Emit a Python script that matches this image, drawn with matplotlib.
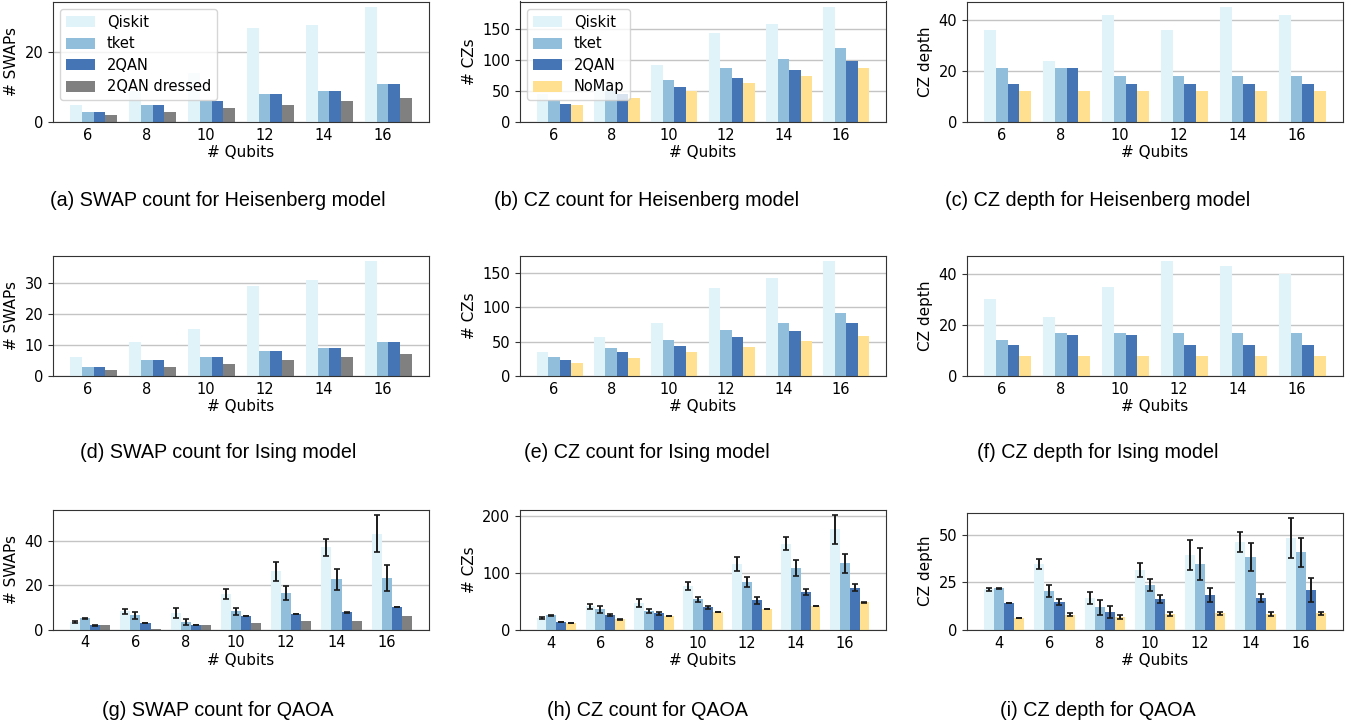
import matplotlib.pyplot as plt
import numpy as np

W, H = 1362, 726

qubits = [6, 8, 10, 12, 14, 16]
qubits_qaoa = [4, 6, 8, 10, 12, 14, 16]

c_qiskit = '#e0f3f8'
c_tket = '#91bfdb'
c_2qan = '#4575b4'
c_dressed = 'gray'
c_nomap = '#fee090'

# Heisenberg model
heis_swap_qiskit = [5, 9, 14, 27, 28, 33]
heis_swap_tket = [3, 5, 6, 8, 9, 11]
heis_swap_2qan = [3, 5, 6, 8, 9, 11]
heis_swap_dressed = [2, 3, 4, 5, 6, 7]

heis_cz_qiskit = [45, 62, 92, 145, 159, 186]
heis_cz_tket = [36, 50, 68, 87, 102, 120]
heis_cz_2qan = [29, 45, 57, 71, 84, 99]
heis_cz_nomap = [27.5, 39, 51, 63, 74.5, 87.5]

heis_depth_qiskit = [36, 24, 42, 36, 45, 42]
heis_depth_tket = [21, 21, 18, 18, 18, 18]
heis_depth_2qan = [15, 21, 15, 15, 15, 15]
heis_depth_nomap = [12, 12, 12, 12, 12, 12]

# Ising model
ising_swap_qiskit = [6, 11, 15, 29, 31, 37]
ising_swap_tket = [3, 5, 6, 8, 9, 11]
ising_swap_2qan = [3, 5, 6, 8, 9, 11]
ising_swap_dressed = [2, 3, 4, 5, 6, 7]

ising_cz_qiskit = [35, 57, 77, 128, 143, 167.5]
ising_cz_tket = [28, 41, 52, 67, 77, 92]
ising_cz_2qan = [23, 35, 44, 57, 65, 77]
ising_cz_nomap = [19, 26, 35, 42, 51, 58]

ising_depth_qiskit = [30, 23, 35, 45, 43, 40]
ising_depth_tket = [14, 17, 17, 17, 17, 17]
ising_depth_2qan = [12, 16, 16, 12, 12, 12]
ising_depth_nomap = [8, 8, 8, 8, 8, 8]

# QAOA (mean and std)
qaoa_swap_qiskit = [3.3, 8.2, 7.3, 15.8, 26.1, 36.9, 43.1]
qaoa_swap_qiskit_err = [0.5, 1.1, 2.2, 2.2, 4.3, 3.8, 8.3]
qaoa_swap_tket = [5.1, 6.4, 3.3, 8.2, 16.3, 22.5, 23.0]
qaoa_swap_tket_err = [0.2, 1.6, 1.5, 1.6, 3.1, 4.7, 5.8]
qaoa_swap_2qan = [1.9, 3.0, 1.9, 6.0, 6.9, 7.8, 10.0]
qaoa_swap_2qan_err = [0.15, 0.1, 0.1, 0.1, 0.15, 0.2, 0.1]
qaoa_swap_dressed = [2.0, 0.3, 2.0, 3.0, 3.7, 3.7, 6.0]

qaoa_cz_qiskit = [21, 42, 47, 77, 115.5, 152, 176.7]
qaoa_cz_qiskit_err = [1, 4.4, 7, 7, 12, 11, 25]
qaoa_cz_tket = [25.7, 36.7, 33, 54, 84, 108.5, 117]
qaoa_cz_tket_err = [0.5, 6, 4, 4.5, 9, 14, 16.6]
qaoa_cz_2qan = [14, 26, 29, 40, 52.5, 66.5, 74.6]
qaoa_cz_2qan_err = [0.5, 2, 3, 3, 6, 5, 6.4]
qaoa_cz_nomap = [12, 18.7, 24.5, 31, 36.7, 42, 48.4]
qaoa_cz_nomap_err = [0.5, 0.3, 0.3, 0.2, 0.3, 0.3, 0.3]

qaoa_depth_qiskit = [21.5, 34.6, 16.8, 31.5, 39.3, 46.2, 48.3]
qaoa_depth_qiskit_err = [0.8, 2.5, 3.1, 3.9, 8, 5.4, 10.5]
qaoa_depth_tket = [22, 20.5, 12, 23.6, 34.6, 38.3, 40.9]
qaoa_depth_tket_err = [0.2, 3.1, 4, 3.1, 8.3, 7.2, 7.7]
qaoa_depth_2qan = [14.2, 14.7, 9.4, 16.3, 18.4, 16.8, 21]
qaoa_depth_2qan_err = [0.1, 1.7, 3.1, 2.1, 3.9, 2.1, 6.5]
qaoa_depth_nomap = [6.3, 7.9, 6.8, 8.4, 8.7, 8.4, 8.7]
qaoa_depth_nomap_err = [0.1, 0.8, 0.9, 0.8, 0.8, 0.8, 0.9]

captions = [
    '(a) SWAP count for Heisenberg model',
    '(b) CZ count for Heisenberg model',
    '(c) CZ depth for Heisenberg model',
    '(d) SWAP count for Ising model',
    '(e) CZ count for Ising model',
    '(f) CZ depth for Ising model',
    '(g) SWAP count for QAOA',
    '(h) CZ count for QAOA',
    '(i) CZ depth for QAOA',
]

plt.rcParams['font.family'] = 'DejaVu Sans'
fig = plt.figure(figsize=(W / 100, H / 100), dpi=100)


def make_ax(left, top, right, bottom):
    return fig.add_axes([left / W, 1 - bottom / H, (right - left) / W, (bottom - top) / H])


def draw(ax, xs, series, ylabel, legend=False, yticks=None):
    x = np.arange(len(xs))
    offsets = [-0.2, 0.0, 0.2, 0.4]
    for k, s in enumerate(series):
        label, vals, col = s[0], s[1], s[2]
        err = s[3] if len(s) > 3 else None
        if err is not None:
            ax.bar(x + offsets[k], vals, 0.2, color=col, label=label, yerr=err, capsize=2.2,
                   error_kw=dict(elinewidth=1.4, ecolor='#1a1a1a', capthick=1.2))
        else:
            ax.bar(x + offsets[k], vals, 0.2, color=col, label=label)
    ax.set_xticks(x)
    ax.set_xticklabels([str(q) for q in xs])
    if yticks is not None:
        ax.set_yticks(yticks)
    ax.tick_params(axis='x', length=0, labelsize=10.5, pad=4)
    ax.tick_params(axis='y', labelsize=10.5, color='#333')
    ax.yaxis.grid(True, color='#c4c4c4', linewidth=1.0)
    ax.set_axisbelow(True)
    for sp in ax.spines.values():
        sp.set_color('#333')
    ax.set_ylabel(ylabel, fontsize=11)
    ax.set_xlabel('# Qubits', fontsize=11, labelpad=2)
    if legend:
        ax.legend(loc='upper left', fontsize=10.5, handleheight=0.8, labelspacing=0.45)


cols = [(53, 429), (520, 886), (967, 1343)]

ax = make_ax(cols[0][0], 1.5, cols[0][1], 122)
draw(ax, qubits, [('Qiskit', heis_swap_qiskit, c_qiskit), ('tket', heis_swap_tket, c_tket),
                  ('2QAN', heis_swap_2qan, c_2qan), ('2QAN dressed', heis_swap_dressed, c_dressed)],
     '# SWAPs', legend=True, yticks=[0, 20])
ax = make_ax(cols[1][0], 1.5, cols[1][1], 122)
draw(ax, qubits, [('Qiskit', heis_cz_qiskit, c_qiskit), ('tket', heis_cz_tket, c_tket),
                  ('2QAN', heis_cz_2qan, c_2qan), ('NoMap', heis_cz_nomap, c_nomap)],
     '# CZs', legend=True)
ax = make_ax(cols[2][0], 1.5, cols[2][1], 122)
draw(ax, qubits, [('Qiskit', heis_depth_qiskit, c_qiskit), ('tket', heis_depth_tket, c_tket),
                  ('2QAN', heis_depth_2qan, c_2qan), ('NoMap', heis_depth_nomap, c_nomap)],
     'CZ depth')

ax = make_ax(cols[0][0], 255.5, cols[0][1], 376)
draw(ax, qubits, [('Qiskit', ising_swap_qiskit, c_qiskit), ('tket', ising_swap_tket, c_tket),
                  ('2QAN', ising_swap_2qan, c_2qan), ('2QAN dressed', ising_swap_dressed, c_dressed)],
     '# SWAPs')
ax = make_ax(cols[1][0], 255.5, cols[1][1], 376)
draw(ax, qubits, [('Qiskit', ising_cz_qiskit, c_qiskit), ('tket', ising_cz_tket, c_tket),
                  ('2QAN', ising_cz_2qan, c_2qan), ('NoMap', ising_cz_nomap, c_nomap)],
     '# CZs')
ax = make_ax(cols[2][0], 255.5, cols[2][1], 376)
draw(ax, qubits, [('Qiskit', ising_depth_qiskit, c_qiskit), ('tket', ising_depth_tket, c_tket),
                  ('2QAN', ising_depth_2qan, c_2qan), ('NoMap', ising_depth_nomap, c_nomap)],
     'CZ depth')

ax = make_ax(cols[0][0], 509.5, cols[0][1], 629.5)
draw(ax, qubits_qaoa, [('Qiskit', qaoa_swap_qiskit, c_qiskit, qaoa_swap_qiskit_err),
                       ('tket', qaoa_swap_tket, c_tket, qaoa_swap_tket_err),
                       ('2QAN', qaoa_swap_2qan, c_2qan, qaoa_swap_2qan_err),
                       ('2QAN dressed', qaoa_swap_dressed, c_dressed)],
     '# SWAPs')
ax = make_ax(cols[1][0], 509.5, cols[1][1], 630)
draw(ax, qubits_qaoa, [('Qiskit', qaoa_cz_qiskit, c_qiskit, qaoa_cz_qiskit_err),
                       ('tket', qaoa_cz_tket, c_tket, qaoa_cz_tket_err),
                       ('2QAN', qaoa_cz_2qan, c_2qan, qaoa_cz_2qan_err),
                       ('NoMap', qaoa_cz_nomap, c_nomap, qaoa_cz_nomap_err)],
     '# CZs')
ax = make_ax(cols[2][0], 512.5, cols[2][1], 630)
draw(ax, qubits_qaoa, [('Qiskit', qaoa_depth_qiskit, c_qiskit, qaoa_depth_qiskit_err),
                       ('tket', qaoa_depth_tket, c_tket, qaoa_depth_tket_err),
                       ('2QAN', qaoa_depth_2qan, c_2qan, qaoa_depth_2qan_err),
                       ('NoMap', qaoa_depth_nomap, c_nomap, qaoa_depth_nomap_err)],
     'CZ depth', yticks=[0, 25, 50])

cap_x = [218, 647, 1098]
cap_y = [201, 453, 710]
for i, cap in enumerate(captions):
    fig.text(cap_x[i % 3] / W, 1 - cap_y[i // 3] / H, cap, ha='center', va='center',
             fontsize=14.2, family='Liberation Sans')

fig.savefig('out.png', dpi=100)
